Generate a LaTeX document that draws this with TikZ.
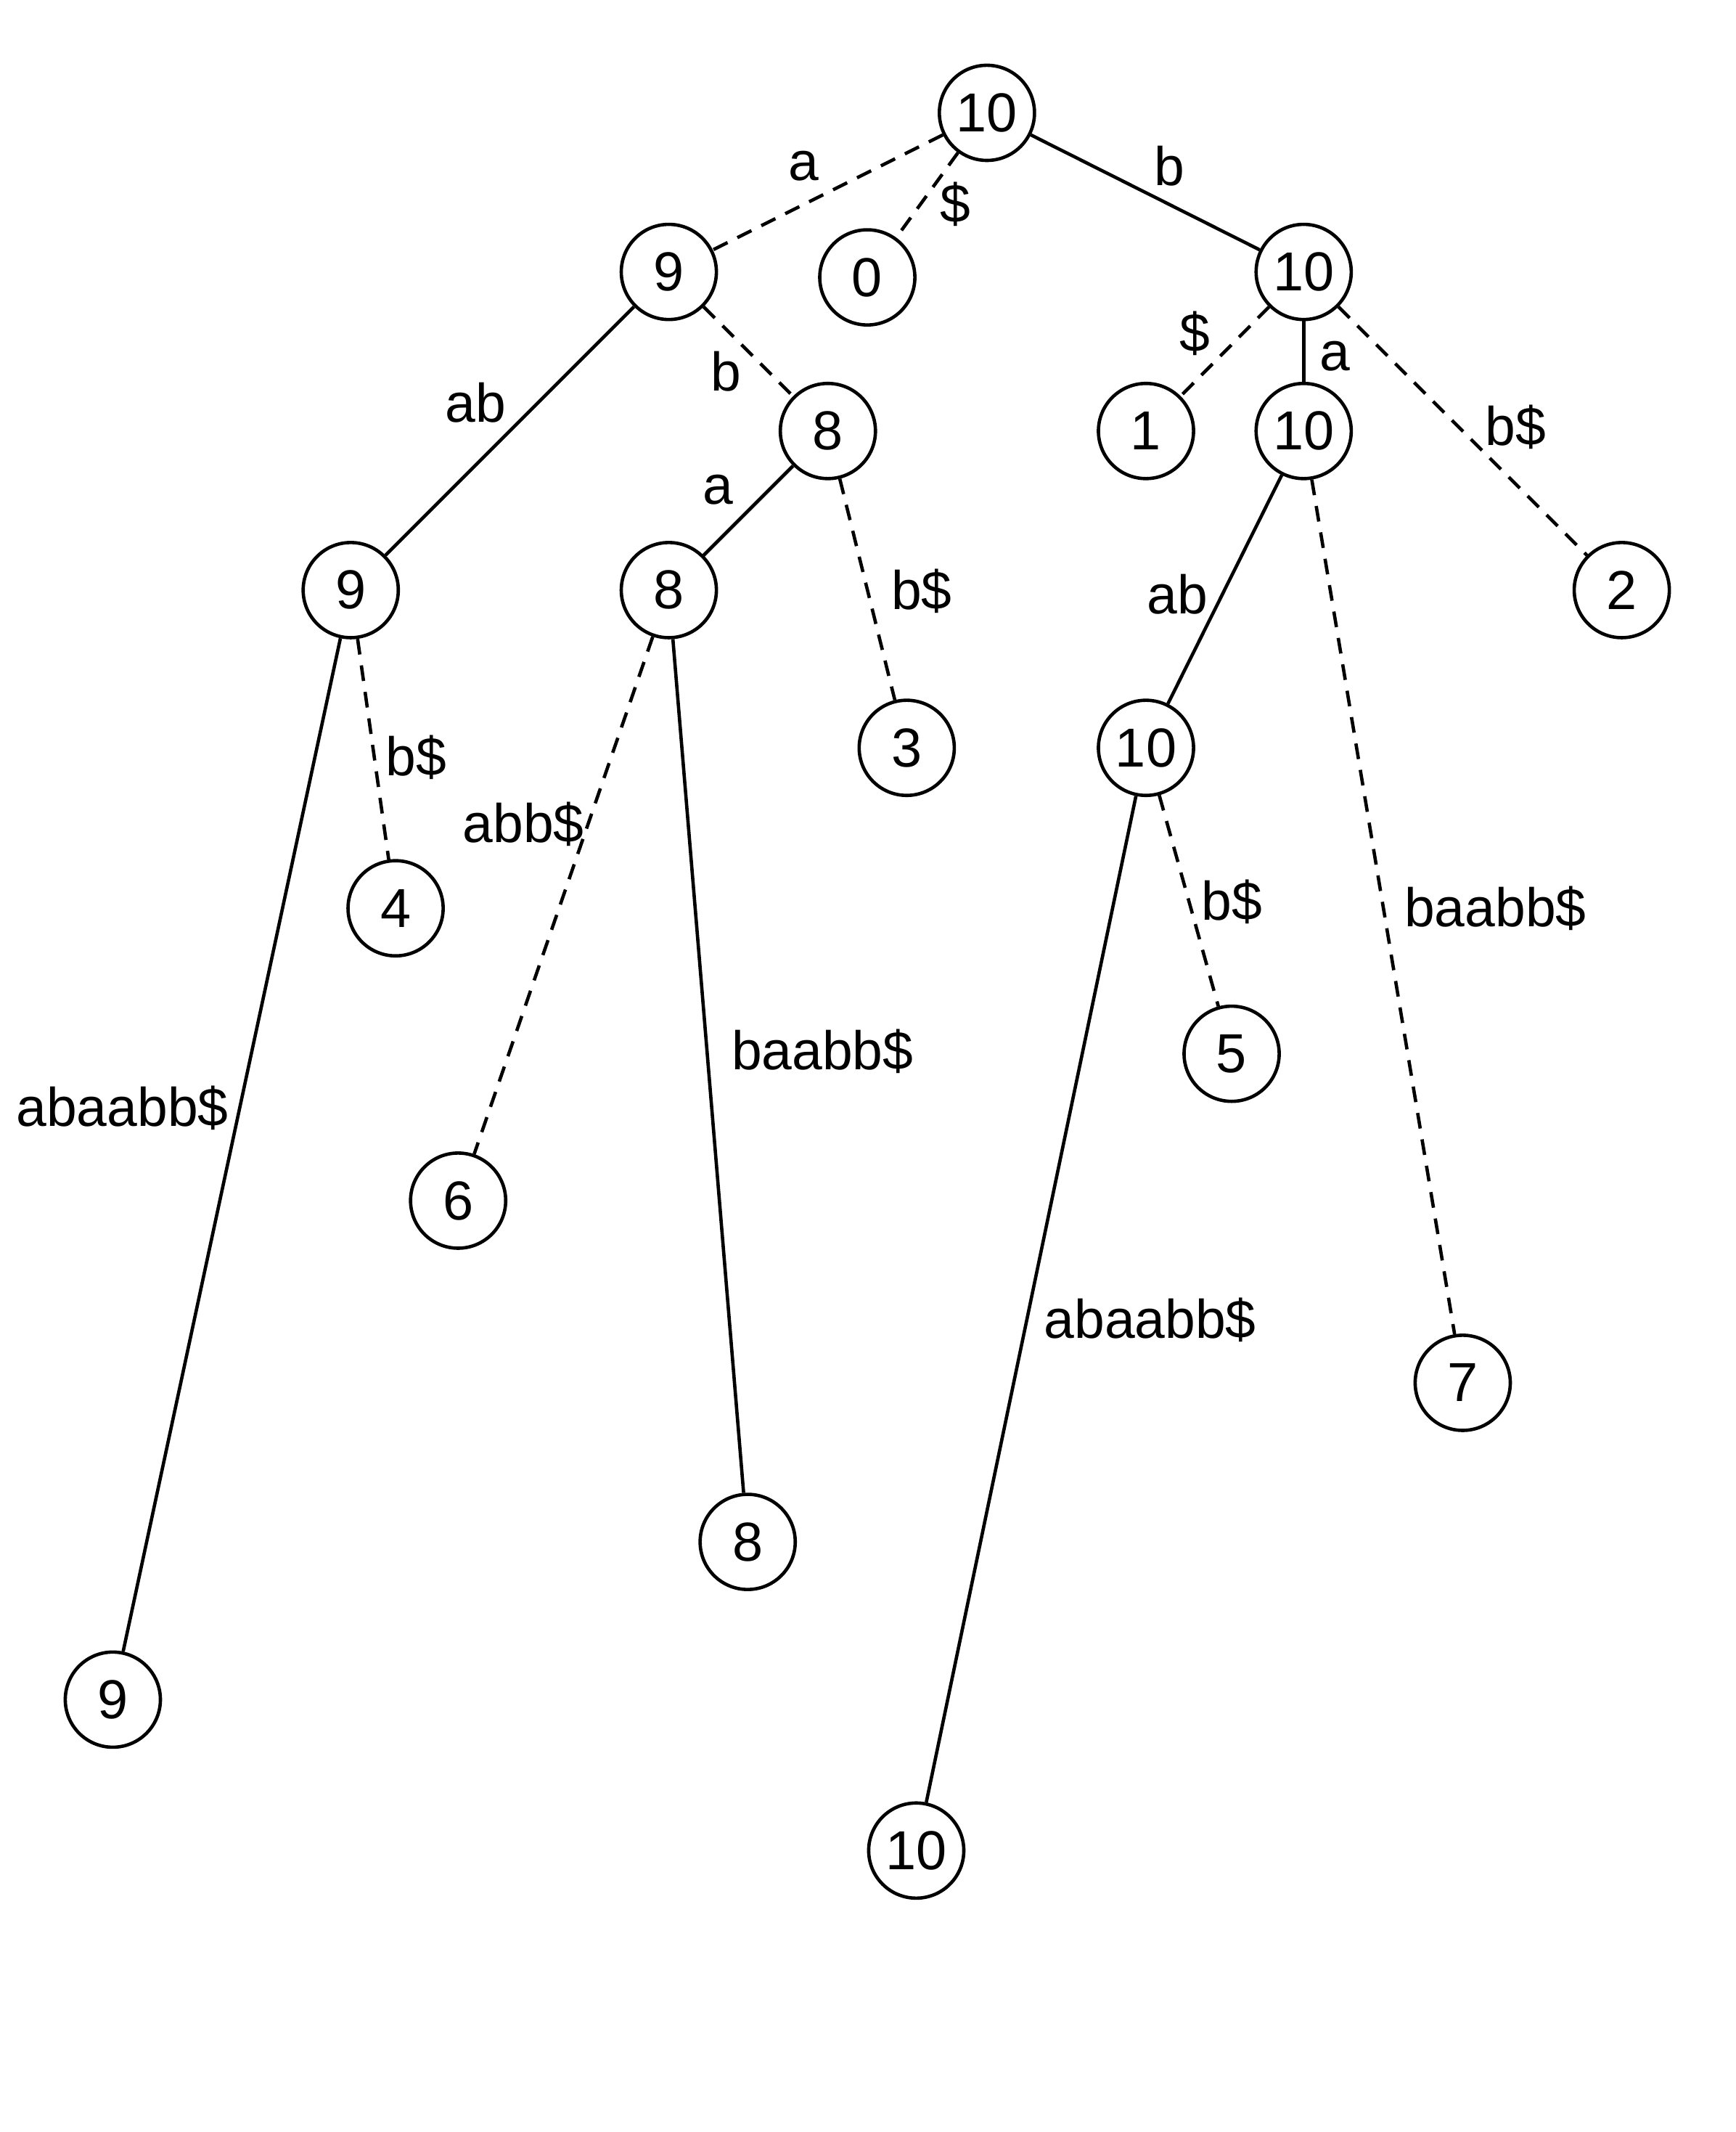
\documentclass[tikz,border=0pt]{standalone}
\usepackage{fontspec}
\setmainfont{Liberation Sans}
\begin{document}
\begin{tikzpicture}[x=0.02cm,y=-0.02cm,
  vtx/.style={circle,draw,line width=1.4pt,minimum size=1.4cm,inner sep=0pt,font=\fontsize{23}{27}\selectfont},
  lbl/.style={font=\fontsize{22.8}{27}\selectfont,inner sep=0pt},
  sol/.style={line width=1.4pt},
  dsh/.style={line width=1.4pt,dash pattern=on 6.6pt off 4.6pt}]
\useasboundingbox (0,0) rectangle (1277,1568);
\node[vtx] (r) at (726,83) {10};
\node[vtx] (n9) at (492,200) {9};
\node[vtx] (n0) at (638,204) {0};
\node[vtx] (m10) at (959,200) {10};
\node[vtx] (n8a) at (609,317) {8};
\node[vtx] (n1) at (843,317) {1};
\node[vtx] (m10c) at (959,317) {10};
\node[vtx] (n9b) at (258,434) {9};
\node[vtx] (n8b) at (492,434) {8};
\node[vtx] (n2) at (1193,434) {2};
\node[vtx] (n3) at (667,550) {3};
\node[vtx] (m10d) at (843,550) {10};
\node[vtx] (n4) at (291,668) {4};
\node[vtx] (n5) at (906,775) {5};
\node[vtx] (n6) at (337,883) {6};
\node[vtx] (n7) at (1076,1017) {7};
\node[vtx] (n8c) at (550,1134) {8};
\node[vtx] (n9c) at (83,1250) {9};
\node[vtx] (m10e) at (674,1361) {10};

\draw[dsh] (r) -- (n9);
\draw[dsh] (r) -- (n0);
\draw[sol] (r) -- (m10);
\draw[dsh] (n9) -- (n8a);
\draw[sol] (n9) -- (n9b);
\draw[dsh] (m10) -- (n1);
\draw[sol] (m10) -- (m10c);
\draw[dsh] (m10) -- (n2);
\draw[sol] (n8a) -- (n8b);
\draw[dsh] (n8a) -- (n3);
\draw[sol] (m10c) -- (m10d);
\draw[dsh] (m10c) -- (n7);
\draw[dsh] (n9b) -- (n4);
\draw[sol] (n9b) -- (n9c);
\draw[dsh] (n8b) -- (n6);
\draw[sol] (n8b) -- (n8c);
\draw[dsh] (m10d) -- (n5);
\draw[sol] (m10d) -- (m10e);

\node[lbl] (la1) at (591,122) {a};
\node[lbl] (ld1) at (703,150) {\$};
\node[lbl] (lb1) at (860,122) {b};
\node[lbl] (lab1) at (350,296) {ab};
\node[lbl] (lb2) at (534,273) {b};
\node[lbl] (ld2) at (879,245) {\$};
\node[lbl] (la2) at (982,262) {a};
\node[lbl] (lbd1) at (1115,314) {b\$};
\node[lbl] (la3) at (528,360) {a};
\node[lbl] (lbd2) at (678,435) {b\$};
\node[lbl] (lab2) at (866,437) {ab};
\node[lbl] (lbd3) at (306,557) {b\$};
\node[lbl] (labb) at (385,606) {abb\$};
\node[lbl] (lbd4) at (906,663) {b\$};
\node[lbl] (lbaabb1) at (1100,668) {baabb\$};
\node[lbl] (lbaabb2) at (605,773) {baabb\$};
\node[lbl] (labaabb1) at (90,815) {abaabb\$};
\node[lbl] (labaabb2) at (846,971) {abaabb\$};
\end{tikzpicture}
\end{document}
